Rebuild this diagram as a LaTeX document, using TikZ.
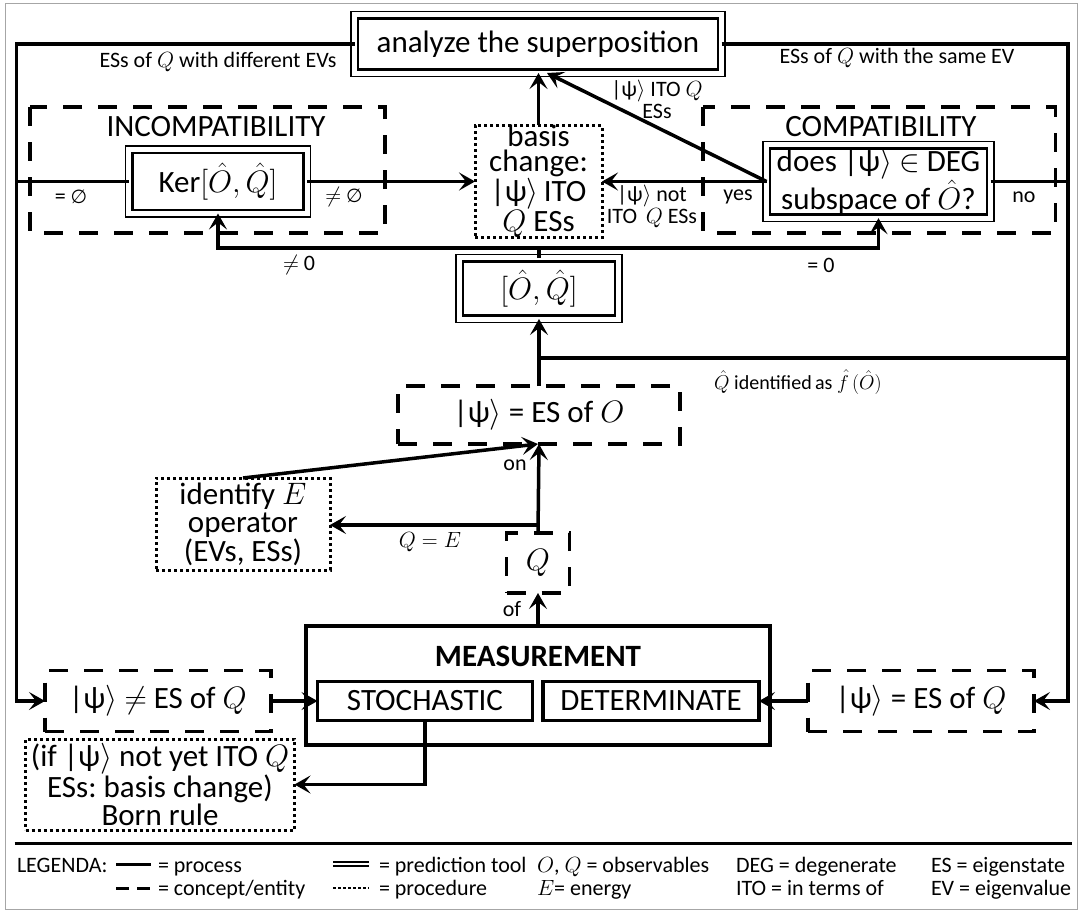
\RequirePackage{fix-cm}
\documentclass[tikz,border=0pt]{standalone}
\usepackage{fontspec}
\setmainfont{Carlito}
\newfontfamily\dejavu{DejaVu Sans}
\usetikzlibrary{arrows.meta}
\newcommand\kpsi{|ψ$\rangle$}
\newcommand\emptyglyph{{\dejavu\fontsize{19}{19}\selectfont ∅}}
\frenchspacing
\begin{document}
\begin{tikzpicture}[x=1pt,y=-1pt,
  every node/.style={inner sep=0pt, outer sep=0pt, align=center},
  big/.style={font=\fontsize{31}{28.5}\selectfont},
  small/.style={font=\fontsize{22}{22}\selectfont},
  proc/.style={draw, line width=3.5pt},
  concept/.style={draw, line width=3.5pt, dash pattern=on 19pt off 16pt},
  procedure/.style={draw, line width=3pt, dash pattern=on 3pt off 3pt},
  tool/.style={draw, line width=2.6pt, outer sep=3.5pt},
  toolouter/.style={draw, line width=1.2pt},
  conn/.style={line width=3.5pt, line join=miter},
  arr/.style={conn, -{Stealth[length=16pt,width=18pt,inset=7pt]}},
]
\useasboundingbox (0,0) rectangle (1080,911);
\draw[gray!70, line width=1pt] (5,3) rectangle (1077,909);

% group frames
\draw[concept] (30,107) rectangle (385,233);
\draw[concept] (703,107) rectangle (1055.5,233);

% boxes
\node[tool, big, minimum width=360pt, minimum height=51pt] (analyze) at (538,44) {analyze the superposition};
\node[big] (incompt) at (216,127) {INCOMPATIBILITY};
\node[tool, big, minimum width=171pt, minimum height=57pt] (ker) at (218,181.5) {Ker$[\hat{O},\hat{Q}]$};
\node[procedure, minimum width=127pt, minimum height=107pt, font=\fontsize{31}{25}\selectfont] (basis) at (538.5,181.5) {basis\\change:\\\kpsi\,ITO\\$Q$ ESs};
\node[big] (compatt) at (881,127) {COMPATIBILITY};
\node[tool, big, minimum width=217pt, minimum height=64pt] (deg) at (878.5,181.5) {does \kpsi\ $\in$ DEG\\subspace of $\hat{O}$?};
\node[tool, big, minimum width=152pt, minimum height=54pt] (comm) at (539,288.5) {$[\hat{O},\hat{Q}]$};
\node[concept, big, minimum width=282pt, minimum height=58pt] (esO) at (539,415) {\kpsi\ = ES of $O$};
\node[procedure, big, minimum width=174pt, minimum height=92pt] (identE) at (243,524) {identify $E$\\operator\\(EVs, ESs)};
\node[concept, big, minimum width=63pt, minimum height=60pt] (Qbox) at (538,563) {$Q$};
\node[proc, font=\fontsize{31}{28.5}\selectfont\bfseries, minimum width=464pt, minimum height=119pt, text height=40pt, text depth=79pt] (meas) at (538,685.5) {MEASUREMENT};
\node[proc, big, minimum width=215pt, minimum height=39pt] (stoch) at (425,701) {STOCHASTIC};
\node[proc, big, minimum width=216pt, minimum height=39pt] (determ) at (651,701) {DETERMINATE};
\node[concept, big, minimum width=226pt, minimum height=61pt] (neq) at (158,701) {\kpsi\ $\neq$ ES of $Q$};
\node[procedure, big, minimum width=269pt, minimum height=91pt] (born) at (160,784.5) {(if \kpsi\ not yet ITO $Q$\\ESs: basis change)\\Born rule};
\node[concept, big, minimum width=226pt, minimum height=61pt] (eqQ) at (921,701) {\kpsi\ = ES of $Q$};

\foreach \n in {analyze,ker,deg,comm}
  \draw[toolouter] ([shift={(-3.5pt,3.5pt)}]\n.north west) rectangle ([shift={(3.5pt,-3.5pt)}]\n.south east);

% connectors
\coordinate (L1) at (16.5,44);
\coordinate (L2) at (16.5,701);
\coordinate (L3) at (16.5,181.5);
\coordinate (R1) at (1068,44);
\coordinate (R2) at (1068,701);
\coordinate (J1) at (538,358);
\coordinate (J2) at (538,525);
\coordinate (C1) at (218,248);
\coordinate (C2) at (878.5,248);
\coordinate (C0) at (539,248);

\draw[arr] (analyze.west) -- (L1) -- (L2) -- (neq.west);
\draw[conn] (L3) -- (ker.west);
\draw[arr] (analyze.east) -- (R1) -- (R2) -- (eqQ.east);
\draw[conn] (deg.east) -- (deg.east -| R1);
\draw[conn] (J1) -- (J1 -| R1);
\draw[arr] (ker.east) -- (basis.west);
\draw[arr] (deg.west) -- (basis.east);
\draw[arr] (deg.west) -- ([xshift=9pt]analyze.south);
\draw[arr] (basis.north) -- (basis.north |- analyze.south);
\draw[conn] (comm.north) -- (C0);
\draw[arr] (C0) -- (C1) -- (ker.south);
\draw[arr] (C0) -- (C2) -- (deg.south);
\draw[arr] (esO.north) -- (comm.south);
\draw[arr] (Qbox.north) -- (esO.south);
\draw[arr] (J2) -- (J2 -| identE.east);
\draw[arr] (identE.north) -- ([xshift=-1pt]esO.south);
\draw[arr] (meas.north) -- (Qbox.south);
\draw[arr] (neq.east) -- (stoch.west);
\draw[arr] (eqQ.west) -- (determ.east);
\draw[arr] (stoch.south) |- (born.east);

% labels
\node[small] (lb1) at (218,62) {ESs of $Q$ with different EVs};
\node[small] (lb2) at (897,58) {ESs of $Q$ with the same EV};
\node[small] (lb3) at (657,99) {\kpsi\ ITO $Q$\\ESs};
\node[small] (lb4) at (71,197) {= \emptyglyph};
\node[small] (lb5) at (344,197) {$\neq$ \emptyglyph};
\node[small] (lb6) at (299,265) {$\neq$ 0};
\node[small] (lb7) at (821,265) {= 0};
\node[small] (lb8) at (738,197) {yes};
\node[small] (lb9) at (1024,197) {no};
\node[small] (lb10) at (652,206) {\kpsi\ not\\ITO\, $Q$ ESs};
\node[font=\fontsize{20}{20}\selectfont] (lb11) at (798,382) {$\hat{Q}$ identified\,as $\hat{f}\,(\hat{O})$};
\node[small] (lb12) at (515,465) {on};
\node[small] (lb13) at (512,609) {of};
\node[small] (lb14) at (430,542) {$Q=E$};

% legend
\draw[line width=3pt] (14.5,843) -- (1072,843);
\node[small, anchor=base west] (lg1) at (17,872) {LEGENDA:};
\draw[line width=3pt] (116,864) -- (150.5,864);
\node[small, anchor=base west] (lg2) at (158,872) {= process};
\draw[line width=3pt, dash pattern=on 13pt off 8pt] (116,888) -- (150.5,888);
\node[small, anchor=base west] (lg3) at (158,895) {= concept/entity};
\draw[line width=1.2pt] (333,862) -- (368.5,862);
\draw[line width=1.2pt] (333,866) -- (368.5,866);
\node[small, anchor=base west] (lg4) at (379,872) {= prediction tool};
\draw[line width=2.5pt, dash pattern=on 2.5pt off 2.5pt] (333,888) -- (368.5,888);
\node[small, anchor=base west] (lg5) at (379,895) {= procedure};
\node[small, anchor=base west] (lg6) at (537,872) {$O$, $Q$ = observables};
\node[small, anchor=base west] (lg7) at (537,895) {$E$= energy};
\node[small, anchor=base west] (lg8) at (736,872) {DEG = degenerate};
\node[small, anchor=base west] (lg9) at (736,895) {ITO = in terms of};
\node[small, anchor=base west] (lg10) at (931,872) {ES = eigenstate};
\node[small, anchor=base west] (lg11) at (931,895) {EV = eigenvalue};
\end{tikzpicture}
\end{document}
